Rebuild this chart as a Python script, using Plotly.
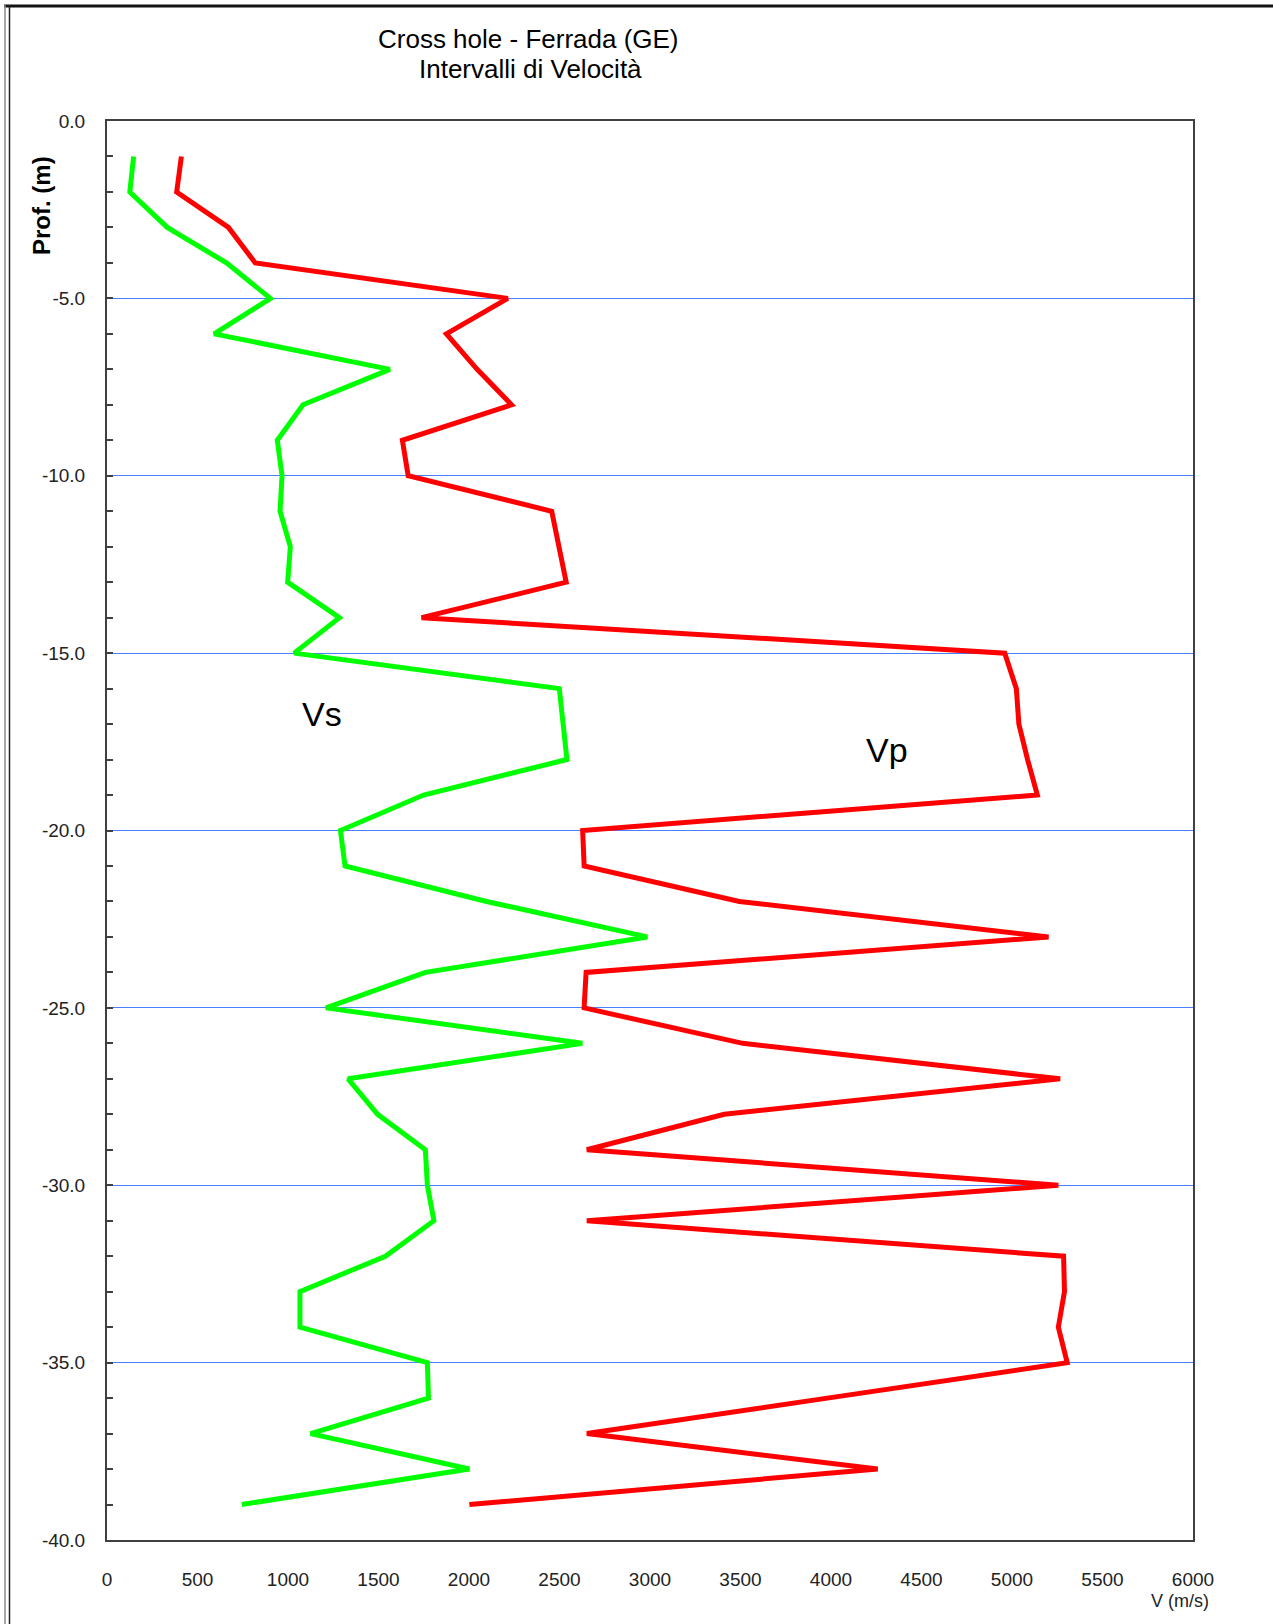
import plotly.graph_objects as go

# ---- data ----
depth = [-1, -2, -3, -4, -5, -6, -7, -8, -9, -10,
         -11, -12, -13, -14, -15, -16, -17, -18, -19, -20,
         -21, -22, -23, -24, -25, -26, -27, -28, -29, -30,
         -31, -32, -33, -34, -35, -36, -37, -38, -39]

vs = [147, 126, 333, 660, 903, 592, 1563, 1083, 941, 967,
      956, 1013, 998, 1284, 1034, 2499, 2520, 2541, 1749, 1290,
      1315, 2097, 2985, 1759, 1210, 2626, 1332, 1495, 1759, 1770,
      1806, 1538, 1066, 1066, 1770, 1776, 1125, 2002, 745]

vp = [411, 385, 671, 819, 2214, 1875, 2045, 2235, 1632, 1664,
      2457, 2499, 2537, 1738, 4960, 5024, 5038, 5086, 5140, 2628,
      2636, 3494, 5202, 2647, 2636, 3513, 5266, 3410, 2651, 5256,
      2651, 5285, 5290, 5256, 5305, 3980, 2651, 4258, 2002]

x_ticks = [0, 500, 1000, 1500, 2000, 2500, 3000, 3500, 4000, 4500, 5000, 5500, 6000]
y_ticks = [0, -5, -10, -15, -20, -25, -30, -35, -40]
y_tick_labels = ["0.0", "-5.0", "-10.0", "-15.0", "-20.0", "-25.0", "-30.0", "-35.0", "-40.0"]

title_lines = ["Cross hole - Ferrada (GE)", "Intervalli di Velocità"]
y_label = "Prof. (m)"
x_label = "V (m/s)"

W, H = 1273, 1624
ML, MR, MT, MB = 107, 80, 121, 84
FONT = "Arial, Liberation Sans, sans-serif"

fig = go.Figure()
fig.add_trace(go.Scatter(x=vs, y=depth, mode="lines", name="Vs",
                         line=dict(color="#00ff00", width=5)))
fig.add_trace(go.Scatter(x=vp, y=depth, mode="lines", name="Vp",
                         line=dict(color="#ff0000", width=5)))

pw = W - ML - MR
ph = H - MT - MB


def px_x(p):
    return (p - ML) / pw


def px_y(p):
    return 1 - (p - MT) / ph


shapes = [
    # outer frame: top thick line, left double line
    dict(type="line", xref="paper", yref="paper", x0=px_x(4), x1=px_x(W), y0=px_y(6), y1=px_y(6),
         line=dict(color="#111111", width=3)),
    dict(type="line", xref="paper", yref="paper", x0=px_x(5), x1=px_x(5), y0=px_y(5), y1=px_y(H),
         line=dict(color="#888888", width=1.5)),
    dict(type="line", xref="paper", yref="paper", x0=px_x(9.5), x1=px_x(9.5), y0=px_y(5), y1=px_y(H),
         line=dict(color="#222222", width=1.5)),
]

annotations = [
    dict(text=title_lines[0], x=px_x(528), y=px_y(39), xref="paper", yref="paper",
         showarrow=False, xanchor="center", yanchor="middle",
         font=dict(family=FONT, size=26, color="black")),
    dict(text=title_lines[1], x=px_x(530), y=px_y(69), xref="paper", yref="paper",
         showarrow=False, xanchor="center", yanchor="middle",
         font=dict(family=FONT, size=26, color="black")),
    dict(text="Vs", x=1187, y=-16.72, xref="x", yref="y", showarrow=False,
         font=dict(family=FONT, size=34, color="black")),
    dict(text="Vp", x=4312, y=-17.73, xref="x", yref="y", showarrow=False,
         font=dict(family=FONT, size=34, color="black")),
    dict(text="<b>" + y_label + "</b>", textangle=-90, x=px_x(42), y=px_y(206),
         xref="paper", yref="paper", showarrow=False, xanchor="center", yanchor="middle",
         font=dict(family=FONT, size=24, color="black")),
    dict(text=x_label, x=px_x(1180), y=px_y(1601), xref="paper", yref="paper",
         showarrow=False, xanchor="center", yanchor="middle",
         font=dict(family=FONT, size=18, color="#222222")),
]

fig.update_layout(
    width=W, height=H,
    margin=dict(l=ML, r=MR, t=MT, b=MB, pad=0),
    paper_bgcolor="white", plot_bgcolor="white",
    showlegend=False,
    shapes=shapes,
    annotations=annotations,
    font=dict(family=FONT, color="#222222"),
)

fig.update_xaxes(
    range=[0, 6000], tickvals=x_ticks, ticktext=[str(v) for v in x_ticks],
    showgrid=False, zeroline=False,
    showline=True, mirror=True, linecolor="#404040", linewidth=2,
    ticks="", ticklabelstandoff=21,
    tickfont=dict(family=FONT, size=19, color="#222222"),
)
fig.update_yaxes(
    range=[-40, 0], tickvals=y_ticks, ticktext=y_tick_labels,
    showgrid=True, gridcolor="#4c7fff", gridwidth=1, zeroline=False,
    showline=True, mirror=True, linecolor="#404040", linewidth=2,
    ticks="inside", ticklen=6, tickwidth=1.5, tickcolor="#404040",
    minor=dict(dtick=1, ticks="inside", ticklen=6, tickwidth=1.5, tickcolor="#404040", showgrid=False),
    ticklabelstandoff=16,
    tickfont=dict(family=FONT, size=19, color="#222222"),
)

fig.write_html("out.html", config={"displayModeBar": False},
               post_script="document.body.style.margin='0';document.body.style.padding='0';")
